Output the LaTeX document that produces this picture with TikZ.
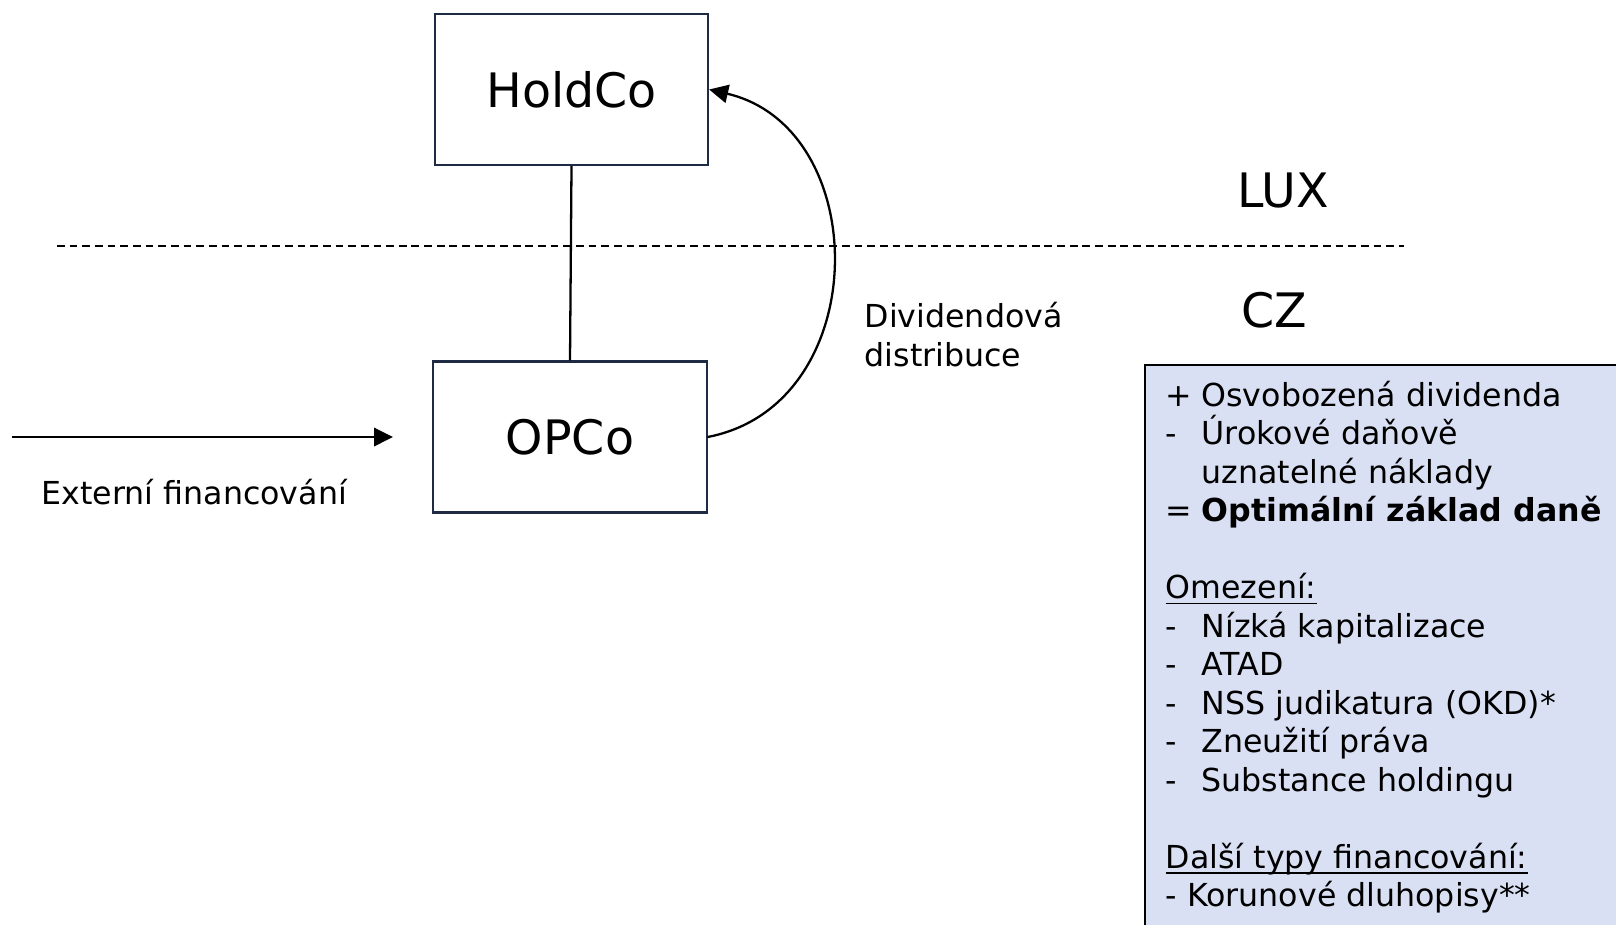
\documentclass[tikz,border=0pt]{standalone}
\usepackage{fontspec}
\setmainfont{DejaVu Sans}
\usetikzlibrary{arrows.meta}
\definecolor{boxfill}{RGB}{218,224,243}
\definecolor{navy}{RGB}{31,42,68}
\newcommand\itm[1]{\makebox[10.2pt][l]{#1}}
\begin{document}
\begin{tikzpicture}[x=0.01cm,y=-0.01cm,
  entity/.style={draw=navy, line width=0.6pt, minimum width=2.73cm, minimum height=1.51cm, inner sep=0pt, font=\fontsize{13.5}{16}\selectfont},
  big/.style={font=\fontsize{13.5}{16}\selectfont, inner sep=0pt},
  small/.style={font=\fontsize{9}{11.1}\selectfont, inner sep=0pt},
  boxline/.style={font=\fontsize{9}{11}\selectfont, inner sep=0pt, anchor=base west},
  conn/.style={line width=0.65pt},
  tipped/.style={conn, -{Triangle[length=5.4pt,width=5.2pt]}}]
\useasboundingbox (0,0) rectangle (1616,924);
% boxes
\node[entity] (h) at (571.5,89.5) {HoldCo};
\node[entity] (o) at (570,437) {OPCo};
\draw[conn] (h.south) -- (o.north);
% dashed border
\coordinate (dl) at (57,246);
\coordinate (dr) at (1404,246);
\draw[line width=0.5pt, dash pattern=on 2.2pt off 1.4pt] (dl) -- (dr);
\node[big] (lux) at (1283,191) {LUX};
\node[big] (cz) at (1274,310) {CZ};
% external financing
\coordinate (ext) at (12,437);
\coordinate (extend) at (393,437);
\draw[tipped, line width=0.75pt] (ext) -- (extend);
\node[small, anchor=west] (extlbl) at (41,492) {Externí financování};
% dividend curve
\draw[tipped] (o.east) .. controls (874,405) and (874,128) .. (h.east);
\node[small, anchor=west, align=left] (div) at (864,334.5) {Dividendová\\distribuce};
% right box
\fill[boxfill] (1145,365) rectangle (1640,950);
\draw[line width=0.6pt] (1640,365) -- (1145,365) -- (1145,950);
\node[boxline] (l1) at (1165,406) {\itm{+}Osvobozená dividenda};
\node[boxline] (l2) at (1165,444.5) {\itm{-}Úrokové daňově};
\node[boxline] (l3) at (1201,483) {uznatelné náklady};
\node[boxline] (l4) at (1165,521.5) {\itm{=}\textbf{Optimální základ daně}};
\node[boxline] (l5) at (1165,598.5) {\underline{\smash{Omezení:}}};
\node[boxline] (l6) at (1165,637) {\itm{-}Nízká kapitalizace};
\node[boxline] (l7) at (1165,675.5) {\itm{-}ATAD};
\node[boxline] (l8) at (1165,714) {\itm{-}NSS judikatura (OKD)*};
\node[boxline] (l9) at (1165,752.5) {\itm{-}Zneužití práva};
\node[boxline] (l10) at (1165,791) {\itm{-}Substance holdingu};
\node[boxline] (l11) at (1165,868) {\underline{\smash{Další typy financování:}}};
\node[boxline] (l12) at (1165,906.5) {- Korunové dluhopisy**};
\end{tikzpicture}
\end{document}
